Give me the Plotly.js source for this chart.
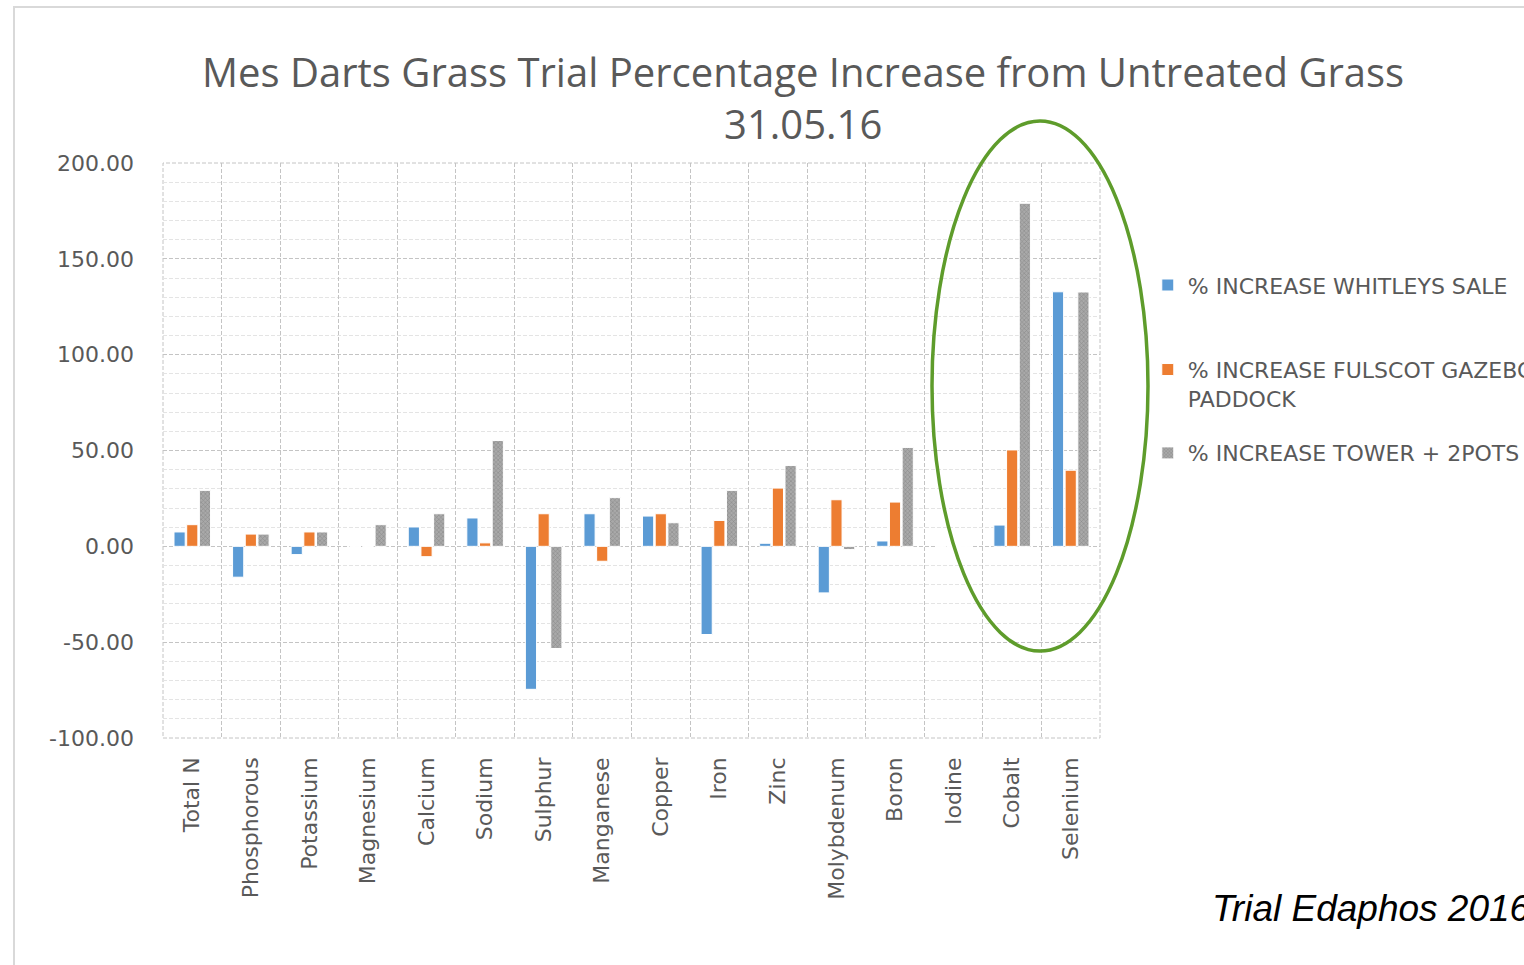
<!DOCTYPE html>
<html>
<head>
<meta charset="utf-8">
<script src="https://cdn.plot.ly/plotly-3.0.1.min.js"></script>
<style>
html,body{margin:0;padding:0;background:#fff;overflow:hidden;}
#chart{width:1524px;height:965px;}
</style>
</head>
<body>
<div id="chart"></div>
<script>
const categories = ["Total N","Phosphorous","Potassium","Magnesium","Calcium","Sodium","Sulphur","Manganese","Copper","Iron","Zinc","Molybdenum","Boron","Iodine","Cobalt","Selenium"];
const whitleys = [7.5,-16.1,-4.3,0,10.1,14.8,-74.6,17.0,15.8,-46.0,1.6,-24.3,2.8,0,11.1,132.8];
const fulscot  = [11.3,6.4,7.5,0,-5.4,1.8,17.0,-7.8,17.0,13.5,30.4,24.3,23.1,0,50.3,39.7];
const tower    = [29.2,6.4,7.5,11.3,17.0,55.2,-53.3,25.4,12.3,29.2,42.2,-1.7,51.6,0,179.0,132.7];
const seriesNames = ["% INCREASE WHITLEYS SALE","% INCREASE FULSCOT GAZEBO<br>PADDOCK","% INCREASE TOWER + 2POTS"];
const yTickVals = [-100,-50,0,50,100,150,200];
const yTickText = ["-100.00","-50.00","0.00","50.00","100.00","150.00","200.00"];
const titleText = "Mes Darts Grass Trial Percentage Increase from Untreated Grass<br>31.05.16";
const footText = "Trial Edaphos 2016";

const FONT = "Open Sans, Noto Sans, sans-serif";
const WIDEFONT = "DejaVu Sans, Verdana, sans-serif";
const TXT = "#595959";

const traces = [
  {type:"bar", x:categories, y:whitleys, name:seriesNames[0], legend:"legend",
   marker:{color:"#5B9BD5", line:{color:"#ffffff", width:1}}},
  {type:"bar", x:categories, y:fulscot, name:seriesNames[1], legend:"legend2",
   marker:{color:"#ED7D31", line:{color:"#ffffff", width:1}}},
  {type:"bar", x:categories, y:tower, name:seriesNames[2], legend:"legend3",
   marker:{color:"#A5A5A5", line:{color:"#ffffff", width:1},
           pattern:{shape:"x", size:3, solidity:0.35, fgcolor:"#8a8a8a", bgcolor:"#a9a9a9"}}}
];

function legendAt(y){
  return {x:1.051, xanchor:"left", y:y, yanchor:"top", valign:"top",
          bgcolor:"rgba(0,0,0,0)", borderwidth:0,
          font:{family:WIDEFONT, size:22, color:TXT}, itemclick:false};
}

const layout = {
  width:1524, height:965,
  paper_bgcolor:"#ffffff", plot_bgcolor:"#ffffff",
  margin:{l:163, r:424, t:163, b:227, autoexpand:false},
  barmode:"group", bargap:0.35, bargroupgap:0.12,
  showlegend:true,
  title:{text:titleText, x:0.527, xanchor:"center", xref:"container",
         y:1-87/965, yanchor:"top", yref:"container",
         font:{family:FONT, size:40, color:TXT}},
  xaxis:{type:"category", tickson:"boundaries", showgrid:true, gridcolor:"#c4c4c4",
         griddash:"4px,2px", gridwidth:1, ticks:"", tickangle:-90, showline:false,
         zeroline:false, ticklabelstandoff:14,
         tickfont:{family:WIDEFONT, size:22, color:TXT}},
  yaxis:{range:[-100,200], tickmode:"array", tickvals:yTickVals, ticktext:yTickText,
         showgrid:true, gridcolor:"#c4c4c4", griddash:"4px,2px", gridwidth:1,
         zeroline:false, showline:false, ticks:"", ticklabelstandoff:28,
         minor:{dtick:10, showgrid:true, gridcolor:"#e4e4e4", gridwidth:1},
         tickfont:{family:WIDEFONT, size:22, color:TXT}},
  legend:legendAt(0.824),
  legend2:legendAt(0.677),
  legend3:legendAt(0.532),
  shapes:[
    {type:"rect", xref:"paper", yref:"paper", x0:-0.159, x1:1.6, y0:-1, y1:(738-7)/575,
     line:{color:"#d9d9d9", width:2}, fillcolor:"rgba(0,0,0,0)", layer:"below"},
    {type:"rect", xref:"paper", yref:"paper", x0:0, x1:1, y0:0, y1:1,
     line:{color:"#c4c4c4", width:1, dash:"4px,2px"}, fillcolor:"rgba(0,0,0,0)", layer:"below"},
    {type:"circle", xref:"paper", yref:"paper", x0:(932-163)/937, x1:(1148-163)/937,
     y0:(738-651)/575, y1:(738-121)/575, line:{color:"#5E9C2B", width:3.5},
     fillcolor:"rgba(0,0,0,0)"}
  ],
  annotations:[
    {text:footText, xref:"paper", yref:"paper", x:(1210-163)/937, xanchor:"left",
     y:(738-908)/575, yanchor:"middle", showarrow:false,
     font:{family:"Liberation Sans, Arial, sans-serif", size:37, color:"#000000", style:"italic"}}
  ]
};

Plotly.newPlot("chart", traces, layout, {displayModeBar:false, staticPlot:true});
</script>
</body>
</html>
